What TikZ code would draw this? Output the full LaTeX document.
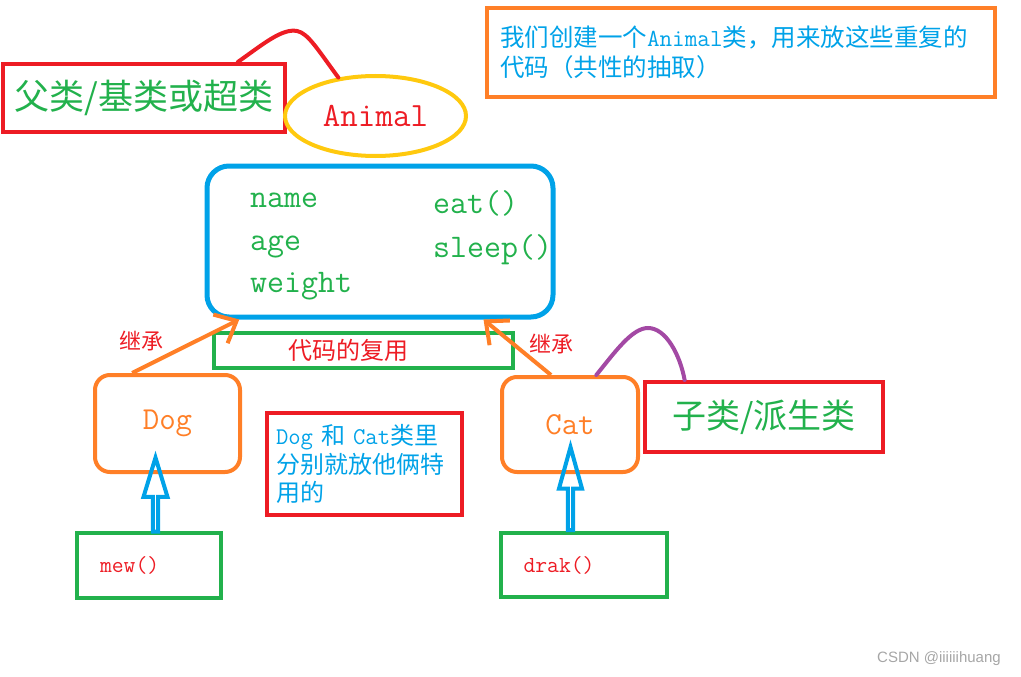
\documentclass[tikz,border=0pt]{standalone}
\usepackage{fontspec}
\newfontfamily\cjk{Noto Sans CJK SC}
\newfontfamily\wmfont{Liberation Sans}
\usetikzlibrary{arrows.meta,shapes.geometric,shapes.arrows}
\definecolor{myred}{HTML}{ED1C24}
\definecolor{mygreen}{HTML}{22B14C}
\definecolor{myorange}{HTML}{FF7F27}
\definecolor{myblue}{HTML}{00A2E8}
\definecolor{myyellow}{HTML}{FFC90E}
\definecolor{mypurple}{HTML}{A349A4}
\tikzset{
  box/.style={draw, line width=4pt, inner sep=0pt},
  redbox/.style={box, draw=myred},
  greenbox/.style={box, draw=mygreen},
  classbox/.style={box, draw=myorange, rounded corners=15pt, text=myorange,
    font=\ttfamily\fontsize{32}{36}\selectfont},
  field/.style={anchor=base west, inner sep=0pt, text=mygreen,
    font=\ttfamily\fontsize{33}{38}\selectfont},
  inherit/.style={draw=myorange, line width=4pt,
    -{Straight Barb[length=18pt,width=32pt]}},
  inhlabel/.style={text=myred, font=\cjk\fontsize{22}{24}\selectfont},
  hollow/.style={single arrow, draw=myblue, line width=4pt, inner sep=0pt,
    rotate=90, single arrow head indent=0pt},
  hump/.style={line width=4pt, line cap=round}
}
\begin{document}
\begin{tikzpicture}[x=1pt,y=-1pt]
\useasboundingbox (0,0) rectangle (1021,677);
% parent class
\node[redbox, minimum width=282pt, minimum height=68pt, text=mygreen,
  font=\cjk\fontsize{35}{40}\selectfont] (parent) at (144,98) {父类/基类或超类};
\node[ellipse, draw=myyellow, line width=4pt, inner sep=0pt, minimum width=181pt,
  minimum height=80pt, text=myred, font=\ttfamily\fontsize{34}{38}\selectfont]
  (animal) at (375.5,116) {Animal};
\draw[hump, myred] (parent.21) .. controls (262,45) and (282,28) .. (297,31)
  .. controls (308,33) and (318,50) .. (animal.134);
\node[box, draw=myorange, minimum width=508pt, minimum height=89pt, text width=482pt,
  inner xsep=13pt, align=left, text=myblue, font=\cjk\fontsize{24.5}{30}\selectfont]
  (note) at (741,52.5) {我们创建一个{\ttfamily Animal}类，用来放这些重复的\\代码（共性的抽取）};
% shared members
\node[box, draw=myblue, line width=5pt, rounded corners=22pt, minimum width=346pt,
  minimum height=151pt] (base) at (380,241.5) {};
\node[field] (fname) at (250,207) {name};
\node[field] (fage) at (250,250) {age};
\node[field] (fweight) at (250,292) {weight};
\node[field] (meat) at (433,213) {eat()};
\node[field] (msleep) at (433,257) {sleep()};
\node[greenbox, minimum width=299pt, minimum height=35pt, text width=151pt,
  inner xsep=74pt, align=left, text=myred, font=\cjk\fontsize{24}{28}\selectfont]
  (reuse) at (363.5,350.5) {代码的复用};
% subclasses
\node[classbox, minimum width=145pt, minimum height=97pt] (dog) at (167.5,423.5) {Dog};
\node[classbox, minimum width=136pt, minimum height=95pt] (cat) at (570,424.5) {Cat};
\draw[inherit] (dog.125) -- (base.209);
\draw[inherit] (cat.111) -- (base.323);
\node[inhlabel] (inhl) at (141,341) {继承};
\node[inhlabel] (inhr) at (551,344) {继承};
\node[redbox, minimum width=238pt, minimum height=70pt, text=mygreen,
  font=\cjk\fontsize{34}{38}\selectfont] (sub) at (764,417) {子类/派生类};
\draw[hump, mypurple] (cat.62) .. controls (615,352) and (632,328) .. (648,328)
  .. controls (666,328) and (680,355) .. (sub.155);
\node[redbox, minimum width=195pt, minimum height=102pt, text width=177pt,
  inner xsep=9pt, align=left, text=myblue, font=\cjk\fontsize{24}{28.5}\selectfont]
  (own) at (364.5,464) {{\ttfamily Dog} 和 {\ttfamily Cat}类里\\分别就放他俩特\\用的};
% own methods
\node[greenbox, minimum width=144pt, minimum height=65pt, text width=98pt,
  inner xsep=23pt, align=left, text=myred, font=\ttfamily\fontsize{23}{28}\selectfont]
  (mew) at (149,565.5) {mew()};
\node[greenbox, minimum width=166pt, minimum height=64pt, text width=120pt,
  inner xsep=23pt, align=left, text=myred, font=\ttfamily\fontsize{23}{28}\selectfont]
  (drak) at (583.5,565) {drak()};
\node[hollow, minimum height=74pt, minimum width=24pt, single arrow head extend=7pt,
  single arrow tip angle=34] (dogup) at (155.5,499) {};
\node[hollow, minimum height=83pt, minimum width=23pt, single arrow head extend=6.5pt,
  single arrow tip angle=31] (catup) at (570.5,493.5) {};
\node[text=gray!70, font=\wmfont\fontsize{15}{17}\selectfont] (mark) at (939,659)
  {CSDN @iiiiiihuang};
\end{tikzpicture}
\end{document}
